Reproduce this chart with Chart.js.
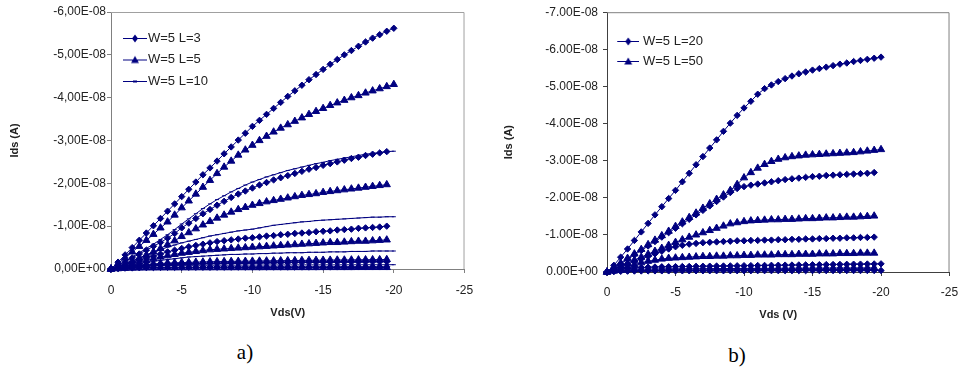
<!DOCTYPE html>
<html><head><meta charset="utf-8">
<script src="https://cdn.jsdelivr.net/npm/chart.js@4.4.1/dist/chart.umd.min.js"></script>
<style>
html,body{margin:0;padding:0;background:#fff;width:968px;height:374px;overflow:hidden;}
canvas{position:absolute;top:0;}
#ca{left:0;} #cb{left:484px;}
.cap{position:absolute;font-family:"Liberation Serif","DejaVu Serif",serif;font-size:21px;line-height:24px;color:#000;transform:translate(-50%,-50%);white-space:nowrap;}
</style></head><body>
<canvas id="ca" width="484" height="340"></canvas>
<canvas id="cb" width="484" height="340"></canvas>
<div class="cap" style="left:245px;top:352px;">a)</div>
<div class="cap" style="left:737px;top:355px;">b)</div>
<script>
// Drain voltage (V), 0.5 V steps
const VDS = [0,-0.5,-1,-1.5,-2,-2.5,-3,-3.5,-4,-4.5,-5,-5.5,-6,-6.5,-7,-7.5,-8,-8.5,-9,-9.5,-10,-10.5,-11,-11.5,-12,-12.5,-13,-13.5,-14,-14.5,-15,-15.5,-16,-16.5,-17,-17.5,-18,-18.5,-19,-19.5,-20];
// |Ids| in nA (currents are negative), chart a)
const A_L3_1 = [0,1.6,3.3,5.0,6.7,8.4,10.1,11.8,13.5,15.2,16.9,18.6,20.3,22.0,23.6,25.2,26.9,28.5,30.1,31.7,33.3,34.7,36.1,37.5,38.9,40.3,41.6,42.9,44.2,45.4,46.6,47.8,48.9,50.0,51.0,52.0,53.0,53.9,54.7,55.5,56.2];
const A_L3_2 = [0,0.8,1.7,2.6,3.5,4.4,5.3,6.2,7.2,8.3,9.6,10.7,11.8,12.9,13.9,14.9,15.8,16.7,17.5,18.2,18.9,19.6,20.2,20.8,21.3,21.8,22.3,22.8,23.3,23.7,24.2,24.6,25.0,25.4,25.8,26.1,26.5,26.8,27.1,27.4];
const A_L3_3 = [0,0.5,1.0,1.5,2.0,2.5,3.0,3.5,4.0,4.4,4.8,5.2,5.5,5.8,6.1,6.4,6.6,6.8,7.0,7.2,7.3,7.5,7.7,7.8,8.0,8.1,8.3,8.4,8.5,8.7,8.8,8.9,9.1,9.2,9.3,9.5,9.6,9.7,9.8,10.0];
const A_L3_4 = [0,0.2,0.4,0.6,0.75,0.9,1.0,1.08,1.14,1.18,1.22,1.25,1.28,1.3,1.32,1.34,1.36,1.38,1.4,1.42,1.44,1.45,1.47,1.48,1.5,1.51,1.53,1.54,1.56,1.57,1.58,1.6,1.61,1.62,1.64,1.65,1.66,1.67,1.68,1.7];
const A_L3_5 = [0,0.1,0.2,0.25,0.3,0.33,0.35,0.37,0.38,0.39,0.4,0.41,0.41,0.42,0.42,0.43,0.43,0.44,0.44,0.44,0.45,0.45,0.45,0.46,0.46,0.46,0.47,0.47,0.47,0.48,0.48,0.48,0.49,0.49,0.49,0.5,0.5,0.5,0.5,0.5];
const A_L5_1 = [0,1.3,2.6,4.0,5.3,6.7,8.1,9.6,11.0,12.6,14.3,15.9,17.5,19.1,20.7,22.3,23.8,25.2,26.6,27.8,28.9,30.0,31.0,32.0,32.9,33.7,34.5,35.3,36.1,36.8,37.5,38.2,38.8,39.4,40.0,40.5,41.1,41.6,42.1,42.6,43.1];
const A_L5_2 = [0,0.6,1.2,1.9,2.6,3.3,4.0,4.8,5.7,6.6,7.6,8.5,9.4,10.3,11.1,11.9,12.6,13.3,13.9,14.4,14.9,15.3,15.7,16.0,16.3,16.6,16.9,17.2,17.4,17.6,17.9,18.1,18.3,18.5,18.7,18.9,19.1,19.3,19.5,19.7];
const A_L5_3 = [0,0.4,0.8,1.2,1.6,2.0,2.4,2.8,3.1,3.4,3.7,3.9,4.1,4.3,4.5,4.6,4.7,4.8,4.9,5.0,5.1,5.2,5.3,5.4,5.5,5.6,5.7,5.8,5.9,6.0,6.1,6.2,6.2,6.3,6.4,6.5,6.5,6.6,6.7,6.8];
const A_L5_4 = [0,0.25,0.5,0.7,0.9,1.05,1.2,1.3,1.4,1.45,1.5,1.55,1.6,1.65,1.7,1.72,1.75,1.78,1.8,1.82,1.85,1.87,1.9,1.92,1.94,1.96,1.98,2.0,2.02,2.04,2.06,2.08,2.1,2.11,2.13,2.15,2.17,2.18,2.2,2.22];
const A_L5_5 = [0,0.08,0.15,0.2,0.23,0.25,0.26,0.27,0.28,0.28,0.29,0.29,0.3,0.3,0.3,0.31,0.31,0.31,0.32,0.32,0.32,0.32,0.33,0.33,0.33,0.33,0.34,0.34,0.34,0.34,0.35,0.35,0.35,0.35,0.35,0.36,0.36,0.36,0.36,0.36];
const A_L10_1 = [0,0.9,1.8,2.8,3.8,4.8,5.8,6.9,8.0,9.2,10.5,11.7,12.9,14.1,15.2,16.2,17.1,18.0,18.8,19.6,20.3,20.9,21.5,22.0,22.5,23.0,23.4,23.8,24.2,24.6,24.9,25.3,25.6,25.9,26.2,26.5,26.8,27.0,27.2,27.4,27.5];
const A_L10_2 = [0,0.5,1.0,1.6,2.3,3.0,3.8,4.5,5.1,5.6,6.1,6.5,6.9,7.3,7.7,8.0,8.3,8.6,8.9,9.1,9.3,9.6,9.9,10.2,10.4,10.6,10.8,11.0,11.1,11.3,11.4,11.5,11.6,11.7,11.8,11.9,12.0,12.1,12.1,12.2,12.2];
const A_L10_3 = [0,0.3,0.6,0.9,1.2,1.5,1.8,2.0,2.2,2.4,2.6,2.8,2.9,3.0,3.1,3.2,3.3,3.4,3.4,3.5,3.5,3.6,3.6,3.7,3.7,3.8,3.8,3.8,3.9,3.9,3.9,4.0,4.0,4.0,4.1,4.1,4.1,4.2,4.2,4.2,4.2];
const A_L10_4 = [0,0.15,0.3,0.45,0.55,0.65,0.72,0.77,0.8,0.82,0.84,0.85,0.86,0.87,0.88,0.89,0.9,0.9,0.91,0.92,0.92,0.93,0.93,0.94,0.94,0.95,0.95,0.96,0.96,0.96,0.97,0.97,0.97,0.98,0.98,0.98,0.99,0.99,0.99,1.0,1.0];
// chart b)
const B_L20_1 = [0,1.8,4.0,6.2,8.5,10.8,13.1,15.4,17.6,19.8,22.0,24.3,26.6,28.9,31.1,33.4,35.6,37.9,40.1,42.2,44.2,46.0,47.9,49.4,50.4,51.3,52.1,52.8,53.4,53.9,54.4,54.8,55.2,55.6,56.0,56.3,56.7,57.0,57.3,57.6,57.9];
const B_L20_2 = [0,1.1,2.2,3.4,4.6,5.8,7.0,8.2,9.4,10.6,11.8,13.0,14.2,15.4,16.6,17.8,19.0,20.2,21.4,22.5,23.0,23.4,23.7,24.0,24.3,24.6,24.9,25.1,25.3,25.5,25.7,25.8,26.0,26.1,26.2,26.3,26.4,26.5,26.6,26.8];
const B_L20_3 = [0,0.7,1.4,2.1,2.8,3.5,4.2,4.9,5.6,6.2,6.8,7.2,7.5,7.7,7.9,8.0,8.1,8.2,8.3,8.4,8.4,8.5,8.5,8.6,8.6,8.7,8.7,8.8,8.8,8.9,8.9,9.0,9.0,9.1,9.1,9.2,9.2,9.3,9.3,9.4];
const B_L20_4 = [0,0.4,0.7,0.95,1.1,1.2,1.3,1.35,1.4,1.42,1.45,1.47,1.5,1.52,1.55,1.57,1.6,1.62,1.65,1.67,1.7,1.72,1.75,1.77,1.8,1.82,1.85,1.87,1.9,1.92,1.95,1.97,2.0,2.02,2.05,2.07,2.1,2.12,2.15,2.17,2.2];
const B_L20_5 = [0,0.1,0.18,0.23,0.26,0.28,0.29,0.3,0.31,0.31,0.32,0.32,0.33,0.33,0.33,0.34,0.34,0.34,0.35,0.35,0.35,0.35,0.36,0.36,0.36,0.36,0.37,0.37,0.37,0.37,0.38,0.38,0.38,0.38,0.39,0.39,0.39,0.39,0.4,0.4,0.4];
const B_L50_1 = [0,1.2,2.4,3.7,4.9,6.1,7.4,8.6,9.8,11.0,12.3,13.5,14.7,15.9,17.2,18.4,19.6,20.8,22.0,23.6,25.4,26.8,28.0,29.0,29.8,30.4,30.8,31.1,31.3,31.5,31.6,31.7,31.8,31.9,32.0,32.1,32.2,32.4,32.6,32.8,33.0];
const B_L50_2 = [0,0.8,1.6,2.4,3.2,4.0,4.8,5.6,6.4,7.2,8.0,8.7,9.4,10.0,10.6,11.2,11.8,12.4,13.0,13.3,13.6,13.8,13.9,14.0,14.1,14.1,14.2,14.2,14.3,14.4,14.4,14.5,14.6,14.6,14.7,14.8,14.8,14.9,15.0,15.1];
const B_L50_3 = [0,0.5,1.0,1.5,2.0,2.5,2.9,3.2,3.5,3.7,3.8,3.9,4.0,4.1,4.2,4.2,4.3,4.3,4.4,4.4,4.5,4.5,4.6,4.6,4.6,4.7,4.7,4.7,4.8,4.8,4.8,4.9,4.9,4.9,5.0,5.0,5.0,5.1,5.1,5.1];
const B_L50_4 = [0,0.25,0.45,0.6,0.7,0.75,0.8,0.82,0.84,0.85,0.86,0.87,0.88,0.89,0.9,0.91,0.92,0.93,0.94,0.95,0.96,0.97,0.98,0.99,1.0,1.0,1.01,1.02,1.03,1.04,1.05,1.05,1.06,1.07,1.08,1.08,1.09,1.1,1.1,1.11];

const LABELS_A = ['W=5 L=3', 'W=5 L=5', 'W=5 L=10'];
const LABELS_B = ['W=5 L=20', 'W=5 L=50'];
const X_TICKS = [0, -5, -10, -15, -20, -25];
const Y_MIN_A = -6e-8, Y_MIN_B = -7e-8, Y_STEP = 1e-8;

const NA = 1e-9;
const NAVY = '#000080';
const FONT = '"Liberation Sans", Arial, sans-serif';

function sample(kind, w, off) {
  const c = document.createElement('canvas');
  c.width = w; c.height = 10;
  const g = c.getContext('2d');
  g.strokeStyle = NAVY; g.fillStyle = NAVY; g.lineWidth = 1;
  g.beginPath(); g.moveTo(off, 5.5); g.lineTo(w, 5.5); g.stroke();
  const cx = off + (w - off) / 2;
  g.beginPath();
  if (kind === 'd') { g.moveTo(cx, 1.5); g.lineTo(cx + 3, 5.5); g.lineTo(cx, 9.5); g.lineTo(cx - 3, 5.5); g.closePath(); g.fill(); }
  else if (kind === 't') { g.moveTo(cx, 1.5); g.lineTo(cx + 4, 8.5); g.lineTo(cx - 4, 8.5); g.closePath(); g.fill(); }
  else { g.fillRect(cx - 2, 4.5, 4, 2); }
  return c;
}

const STYLES = {
  d: { pointStyle: 'rectRot', pointRadius: 3.2 },
  t: { pointStyle: 'triangle', pointRadius: 4.2 },
  l: { pointStyle: 'line', pointRadius: 2 }
};

function ds(label, values, kind, inLegend, smp) {
  return Object.assign({
    label,
    data: values.map((v, i) => ({ x: VDS[i], y: -v * NA })),
    borderColor: NAVY, backgroundColor: NAVY, borderWidth: 1,
    pointBorderColor: NAVY, pointBackgroundColor: NAVY, pointBorderWidth: 1,
    tension: 0, clip: false, inLegend, smp
  }, STYLES[kind]);
}

function sci(v, dec) {
  if (Math.abs(v) < 1e-20) v = 0;
  const s = v.toExponential(2);
  const parts = s.split('e');
  const en = parseInt(parts[1], 10);
  return parts[0].replace('.', dec) + 'E' + (en < 0 ? '-' : '+') + String(Math.abs(en)).padStart(2, '0');
}

const frame = {
  id: 'frame',
  beforeDatasetsDraw(chart, args, opts) {
    const { ctx, chartArea: { left, top, right, bottom } } = chart;
    ctx.save();
    ctx.strokeStyle = opts.color; ctx.lineWidth = 1;
    ctx.beginPath();
    ctx.moveTo(left, top + 0.5); ctx.lineTo(right - 0.5, top + 0.5); ctx.lineTo(right - 0.5, bottom);
    ctx.stroke();
    ctx.restore();
  }
};

function makeChart(id, datasets, cfg) {
  return new Chart(document.getElementById(id), {
    type: 'line',
    data: { datasets },
    plugins: [frame],
    options: {
      responsive: false, animation: false, events: [],
      layout: { padding: { left: 0, top: cfg.top, right: cfg.right, bottom: 0 } },
      scales: {
        x: {
          type: 'linear', min: -25, max: 0, reverse: true,
          afterBuildTicks: s => { s.ticks = X_TICKS.map(v => ({ value: v })); },
          afterFit: s => { s.height = cfg.xh; },
          grid: { drawOnChartArea: false, drawTicks: true, tickLength: 4, color: cfg.axis },
          border: { color: cfg.axis, width: 1 },
          ticks: { padding: cfg.xpad, color: '#222', font: { family: FONT, size: 12 }, maxRotation: 0, callback: v => String(v) },
          title: { display: true, text: cfg.xt, color: '#222', font: { family: FONT, size: 11, weight: 'bold' }, padding: { top: 0, bottom: cfg.xtpad } }
        },
        y: {
          type: 'linear', min: cfg.ymin, max: 0, reverse: true,
          ticks: { stepSize: Y_STEP, padding: cfg.ypad, color: '#222', font: { family: FONT, size: 12 }, callback: v => sci(v, cfg.dec) },
          afterFit: s => { s.width = cfg.yw; },
          grid: { drawOnChartArea: false, drawTicks: true, tickLength: 4, color: cfg.axis },
          border: { color: cfg.axis, width: 1 },
          title: { display: true, text: 'Ids (A)', color: '#222', font: { family: FONT, size: 11, weight: 'bold' }, padding: { top: cfg.ytpad, bottom: 0 } }
        }
      },
      plugins: {
        frame: { color: cfg.frame },
        tooltip: { enabled: false },
        legend: {
          position: 'chartArea', align: 'start',
          title: { display: true, text: '', font: { size: 5 }, padding: { top: 0, bottom: cfg.lt } },
          labels: {
            usePointStyle: true, pointStyleWidth: cfg.bw, padding: cfg.lp,
            color: '#222', font: { family: FONT, size: 13 },
            generateLabels: chart => Chart.defaults.plugins.legend.labels.generateLabels(chart)
              .filter(it => chart.data.datasets[it.datasetIndex].inLegend)
              .map(it => Object.assign(it, { pointStyle: chart.data.datasets[it.datasetIndex].smp }))
          }
        }
      }
    }
  });
}

const sdA = sample('d', 33, 9), stA = sample('t', 33, 9), slA = sample('l', 33, 9);
const dsA = [
  ds(LABELS_A[0], A_L3_1, 'd', true, sdA),
  ds(LABELS_A[1], A_L5_1, 't', true, stA),
  ds(LABELS_A[2], A_L10_1, 'l', true, slA),
  ds(LABELS_A[0], A_L3_2, 'd', false), ds(LABELS_A[0], A_L3_3, 'd', false),
  ds(LABELS_A[0], A_L3_4, 'd', false), ds(LABELS_A[0], A_L3_5, 'd', false),
  ds(LABELS_A[1], A_L5_2, 't', false), ds(LABELS_A[1], A_L5_3, 't', false),
  ds(LABELS_A[1], A_L5_4, 't', false), ds(LABELS_A[1], A_L5_5, 't', false),
  ds(LABELS_A[2], A_L10_2, 'l', false), ds(LABELS_A[2], A_L10_3, 'l', false),
  ds(LABELS_A[2], A_L10_4, 'l', false)
];
makeChart('ca', dsA, {
  top: 12, right: 12, xh: 71, yw: 111, xpad: 10.8, xtpad: 20.4, ypad: 1, ytpad: 8.4,
  ymin: Y_MIN_A, dec: ',', xt: 'Vds(V)', axis: '#808080', frame: '#a0a0a0',
  lt: 17, lp: 8.5, bw: 22
});

const sdB = sample('d', 28, 6), stB = sample('t', 28, 6);
const dsB = [
  ds(LABELS_B[0], B_L20_1, 'd', true, sdB),
  ds(LABELS_B[1], B_L50_1, 't', true, stB),
  ds(LABELS_B[0], B_L20_2, 'd', false), ds(LABELS_B[0], B_L20_3, 'd', false),
  ds(LABELS_B[0], B_L20_4, 'd', false), ds(LABELS_B[0], B_L20_5, 'd', false),
  ds(LABELS_B[1], B_L50_2, 't', false), ds(LABELS_B[1], B_L50_3, 't', false),
  ds(LABELS_B[1], B_L50_4, 't', false)
];
makeChart('cb', dsB, {
  top: 11, right: 9, xh: 68, yw: 123, xpad: 9.8, xtpad: 18.4, ypad: 5, ytpad: 18.4,
  ymin: Y_MIN_B, dec: '.', xt: 'Vds (V)', axis: '#404040', frame: '#808080',
  lt: 21.5, lp: 7, bw: 22.5
});
</script>
</body></html>
